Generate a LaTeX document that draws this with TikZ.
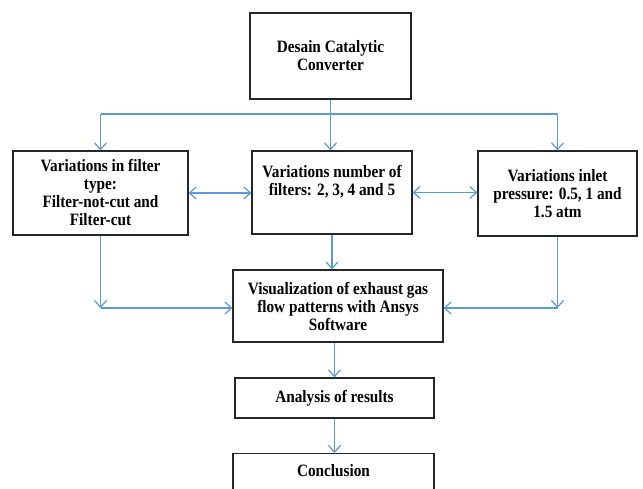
\documentclass[tikz,border=0pt]{standalone}
\usepackage{fontspec}
\setmainfont[FakeStretch=0.88]{Liberation Serif}
\usetikzlibrary{arrows.meta}
\definecolor{arrowblue}{RGB}{91,155,213}
\begin{document}
\begin{tikzpicture}[x=0.75pt,y=-0.75pt,
  box/.style={draw=black!85, line width=0.9pt, inner sep=0pt,
    font=\bfseries\fontsize{13}{13.5}\selectfont, align=center},
  conn/.style={draw=arrowblue, line width=0.9pt},
  tip/.tip={Straight Barb[length=5pt,width=9pt]},
  arr/.style={conn, -tip},
  darr/.style={conn, tip-tip}]
\useasboundingbox (0,0) rectangle (643,489);
\clip (0,0) rectangle (643,489);

\node[box, minimum width=120.75pt, minimum height=64.5pt] (top) at (330.5,56)
  {Desain Catalytic\\Converter};
\node[box, minimum width=131.25pt, minimum height=63pt] (left) at (100.5,193)
  {Variations in filter\\type:\\Filter-not-cut and\\Filter-cut};
\node[box, minimum width=120pt, minimum height=62.25pt] (mid) at (332,192.5)
  {Variations number of\\filters: 2, 3, 4 and 5\\ \strut};
\node[box, minimum width=119.25pt, minimum height=63.75pt] (right) at (557.5,193.5)
  {Variations inlet\\pressure: 0.5, 1 and\\1.5 atm};
\node[box, minimum width=157.5pt, minimum height=54pt] (vis) at (338,306)
  {Visualization of exhaust gas\\flow patterns with Ansys\\Software};
\node[box, minimum width=149.25pt, minimum height=30pt] (ana) at (334.5,398)
  {Analysis of results};
\node[box, minimum width=150.75pt, anchor=north, text height=17pt, text depth=30pt] (con) at (333.5,453)
  {Conclusion};

\coordinate (hub) at (330.5,114);
\coordinate (hl) at (100.5,114);
\coordinate (hr) at (557.5,114);
\coordinate (cl) at (100.5,308);
\coordinate (cr) at (557.5,308);

\draw[conn] (top.south) -- (hub);
\draw[conn] (hl) -- (hr);
\draw[arr] (hl) -- (left.north);
\draw[arr] (hub) -- (hub |- mid.north);
\draw[arr] (hr) -- (right.north);

\draw[darr] (left.east) -- (left.east -| mid.west);
\draw[darr] (mid.east) -- (mid.east -| right.west);

\draw[arr] (left.south) -- (cl);
\draw[arr] (cl) -- (cl -| vis.west);
\draw[arr] (right.south) -- (cr);
\draw[arr] (cr) -- (cr -| vis.east);

\draw[arr] (mid.south) -- (mid.south |- vis.north);
\draw[arr] (ana.north |- vis.south) -- (ana.north);
\draw[arr] (ana.south) -- (ana.south |- con.north);
\end{tikzpicture}
\end{document}
